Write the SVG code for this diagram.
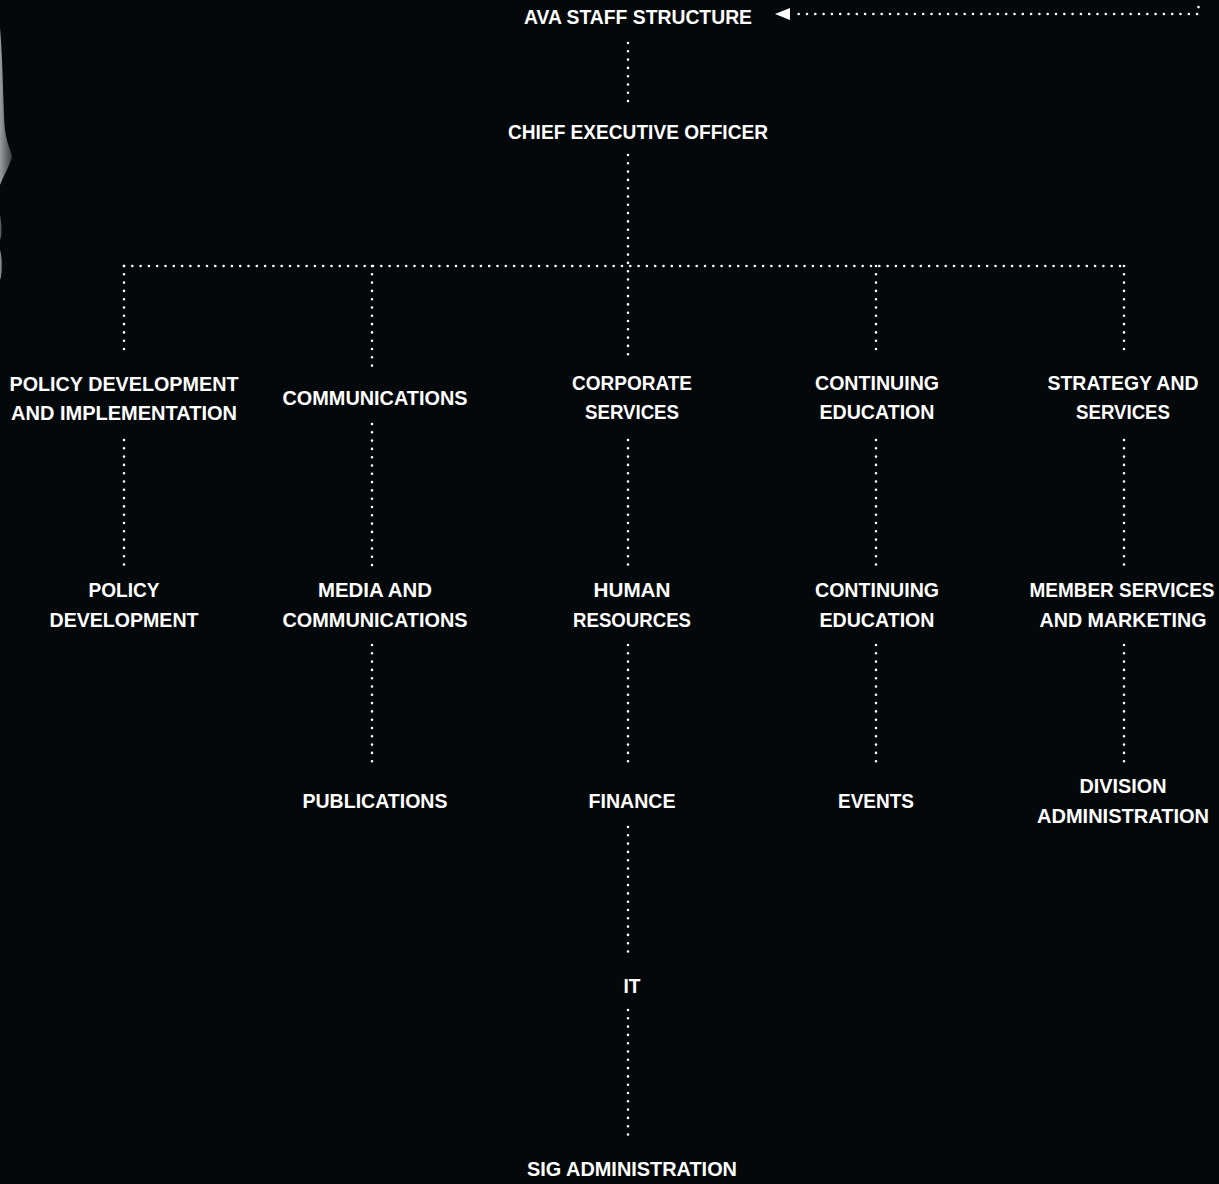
<svg xmlns="http://www.w3.org/2000/svg" width="1219" height="1184" viewBox="0 0 1219 1184">
<defs>
<style>
.bg{fill:#05080a}
.dot{fill:none;stroke:#ffffff;stroke-width:2.6;stroke-linecap:round;stroke-dasharray:0 8.3}
.t{font-family:"Liberation Sans",Arial,sans-serif;font-weight:bold;font-size:21px;fill:#ffffff;text-anchor:middle}
</style>
<linearGradient id="g" x1="0" y1="0" x2="1" y2="0">
<stop offset="0" stop-color="#9a9c9e"/>
<stop offset="1" stop-color="#3a3d3f"/>
</linearGradient>
</defs>
<rect class="bg" x="0" y="0" width="1219" height="1184"/>
<g id="decoration">
<path d="M0,28 C3,60 3,105 5,130 C7,145 11,150 12,157 C10,165 4,175 0,185 Z" fill="url(#g)"/>
<path d="M0,215 C2,225 2,235 0,240 Z" fill="#5a5d60"/>
<path d="M0,250 C3,260 3,272 0,280 Z" fill="url(#g)"/>
</g>
<g id="connectors">
<polygon points="775,14 790,8 790,20" fill="#ffffff"/>
<path class="dot" d="M798.7,14 H1198.5 V-2"/>
<path class="dot" d="M628,43 V102"/>
<path class="dot" d="M628,155 V357"/>
<path class="dot" d="M124,266 H1124"/>
<path class="dot" d="M124,266 V357"/>
<path class="dot" d="M372,266 V367"/>
<path class="dot" d="M876,266 V357"/>
<path class="dot" d="M1124,266 V357"/>
<path class="dot" d="M124,440 V566"/>
<path class="dot" d="M372,424 V566"/>
<path class="dot" d="M628,440 V566"/>
<path class="dot" d="M876,440 V566"/>
<path class="dot" d="M1124,440 V566"/>
<path class="dot" d="M372,645 V766"/>
<path class="dot" d="M628,645 V766"/>
<path class="dot" d="M876,645 V766"/>
<path class="dot" d="M1124,645 V766"/>
<path class="dot" d="M628,827 V955"/>
<path class="dot" d="M628,1010 V1135"/>
</g>
<g id="n-ava"><text class="t" x="638" y="24" textLength="228" lengthAdjust="spacingAndGlyphs">AVA STAFF STRUCTURE</text></g>
<g id="n-ceo"><text class="t" x="638" y="139" textLength="260" lengthAdjust="spacingAndGlyphs">CHIEF EXECUTIVE OFFICER</text></g>
<g id="n-policy-dev-impl"><text class="t" x="124" y="391" textLength="229" lengthAdjust="spacingAndGlyphs">POLICY DEVELOPMENT</text><text class="t" x="124" y="420" textLength="226" lengthAdjust="spacingAndGlyphs">AND IMPLEMENTATION</text></g>
<g id="n-communications"><text class="t" x="375" y="405" textLength="185" lengthAdjust="spacingAndGlyphs">COMMUNICATIONS</text></g>
<g id="n-corporate"><text class="t" x="632" y="390" textLength="120" lengthAdjust="spacingAndGlyphs">CORPORATE</text><text class="t" x="632" y="419" textLength="94" lengthAdjust="spacingAndGlyphs">SERVICES</text></g>
<g id="n-continuing"><text class="t" x="877" y="390" textLength="124" lengthAdjust="spacingAndGlyphs">CONTINUING</text><text class="t" x="877" y="419" textLength="115" lengthAdjust="spacingAndGlyphs">EDUCATION</text></g>
<g id="n-strategy"><text class="t" x="1123" y="390" textLength="151" lengthAdjust="spacingAndGlyphs">STRATEGY AND</text><text class="t" x="1123" y="419" textLength="94" lengthAdjust="spacingAndGlyphs">SERVICES</text></g>
<g id="n-policy-dev"><text class="t" x="124" y="597" textLength="71" lengthAdjust="spacingAndGlyphs">POLICY</text><text class="t" x="124" y="627" textLength="149" lengthAdjust="spacingAndGlyphs">DEVELOPMENT</text></g>
<g id="n-media"><text class="t" x="375" y="597" textLength="114" lengthAdjust="spacingAndGlyphs">MEDIA AND</text><text class="t" x="375" y="627" textLength="185" lengthAdjust="spacingAndGlyphs">COMMUNICATIONS</text></g>
<g id="n-hr"><text class="t" x="632" y="597" textLength="77" lengthAdjust="spacingAndGlyphs">HUMAN</text><text class="t" x="632" y="627" textLength="118" lengthAdjust="spacingAndGlyphs">RESOURCES</text></g>
<g id="n-continuing2"><text class="t" x="877" y="597" textLength="124" lengthAdjust="spacingAndGlyphs">CONTINUING</text><text class="t" x="877" y="627" textLength="115" lengthAdjust="spacingAndGlyphs">EDUCATION</text></g>
<g id="n-member"><text class="t" x="1122" y="597" textLength="185" lengthAdjust="spacingAndGlyphs">MEMBER SERVICES</text><text class="t" x="1123" y="627" textLength="167" lengthAdjust="spacingAndGlyphs">AND MARKETING</text></g>
<g id="n-publications"><text class="t" x="375" y="808" textLength="145" lengthAdjust="spacingAndGlyphs">PUBLICATIONS</text></g>
<g id="n-finance"><text class="t" x="632" y="808" textLength="87" lengthAdjust="spacingAndGlyphs">FINANCE</text></g>
<g id="n-events"><text class="t" x="876" y="808" textLength="76" lengthAdjust="spacingAndGlyphs">EVENTS</text></g>
<g id="n-division"><text class="t" x="1123" y="793" textLength="87" lengthAdjust="spacingAndGlyphs">DIVISION</text><text class="t" x="1123" y="823" textLength="172" lengthAdjust="spacingAndGlyphs">ADMINISTRATION</text></g>
<g id="n-it"><text class="t" x="632" y="993" textLength="17" lengthAdjust="spacingAndGlyphs">IT</text></g>
<g id="n-sig"><text class="t" x="632" y="1176" textLength="210" lengthAdjust="spacingAndGlyphs">SIG ADMINISTRATION</text></g>
</svg>
